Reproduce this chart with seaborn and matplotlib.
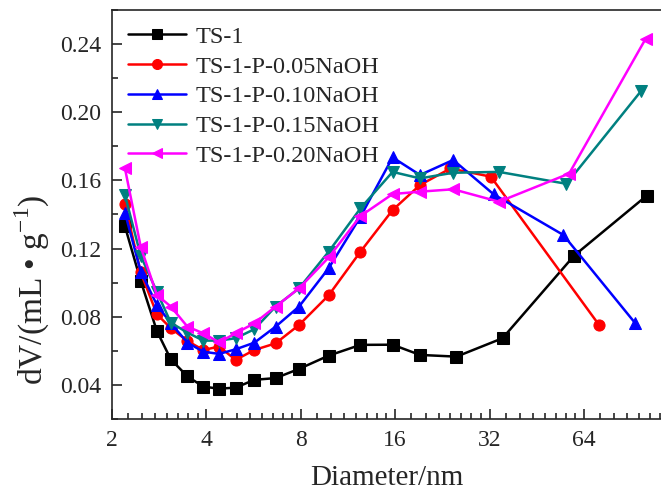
import numpy as np
import pandas as pd
import matplotlib
matplotlib.use("Agg")
import matplotlib.pyplot as plt
import matplotlib.ticker as mticker
import seaborn as sns

# pore size distribution
x_base = [2.2, 2.47, 2.78, 3.08, 3.48, 3.91, 4.39, 4.96, 5.69, 6.65, 7.9, 9.82, 12.4, 15.7, 19.2]

ts1_x = x_base + [25.1, 35.2, 59.5, 101.4]
ts1_y = [0.133, 0.101, 0.0717, 0.055, 0.045, 0.039, 0.0378, 0.0384, 0.043, 0.044,
         0.0494, 0.0572, 0.0635, 0.0636, 0.0576, 0.0566, 0.0674, 0.1158, 0.151]

p005_x = x_base + [24.0, 32.3, 71.5]
p005_y = [0.146, 0.106, 0.0815, 0.0733, 0.0658, 0.0605, 0.0625, 0.0547, 0.0605, 0.0644,
          0.0752, 0.0926, 0.1182, 0.1426, 0.1573, 0.167, 0.1622, 0.0752]

p010_x = x_base + [24.5, 33.0, 55.0, 93.0]
p010_y = [0.141, 0.1065, 0.087, 0.0762, 0.0648, 0.0595, 0.0582, 0.0609, 0.0648, 0.0742,
          0.086, 0.1085, 0.1387, 0.1735, 0.1632, 0.172, 0.1518, 0.128, 0.0765]

p015_x = x_base + [24.5, 34.3, 56.3, 97.3]
p015_y = [0.1514, 0.1157, 0.0947, 0.0765, 0.0707, 0.066, 0.066, 0.0674, 0.0727, 0.086,
          0.0967, 0.1182, 0.1436, 0.165, 0.1612, 0.1645, 0.165, 0.158, 0.2124]

p020_x = x_base + [24.5, 34.3, 57.4, 100.6]
p020_y = [0.167, 0.121, 0.0928, 0.086, 0.0742, 0.0703, 0.065, 0.0703, 0.0762, 0.086,
          0.0967, 0.1148, 0.1391, 0.152, 0.1534, 0.1548, 0.1475, 0.164, 0.243]

labels = ["TS-1", "TS-1-P-0.05NaOH", "TS-1-P-0.10NaOH", "TS-1-P-0.15NaOH", "TS-1-P-0.20NaOH"]
series = [(ts1_x, ts1_y), (p005_x, p005_y), (p010_x, p010_y), (p015_x, p015_y), (p020_x, p020_y)]
colors = ["#000000", "#FF0000", "#0000FF", "#008080", "#FF00FF"]
markers = ["s", "o", "^", "v", "<"]

sns.set_style("ticks")
plt.rcParams["font.family"] = ["Liberation Serif", "DejaVu Serif"]
plt.rcParams["mathtext.fontset"] = "custom"
plt.rcParams["mathtext.rm"] = "Liberation Serif"

fig = plt.figure(figsize=(6.61, 4.96), dpi=100)
ax = fig.add_axes([112 / 661, 77 / 496, 549 / 661, 409 / 496])

for (xs, ys), lab, c, m in zip(series, labels, colors, markers):
    df = pd.DataFrame({"Diameter": xs, "dV": ys})
    sns.lineplot(data=df, x="Diameter", y="dV", ax=ax, color=c, marker=m, markersize=8,
                 markeredgecolor=c, linewidth=1.8, sort=False, label=lab)

ax.set_xscale("log", base=2)
ax.set_xlim(2, 112.7)
ax.set_ylim(0.02, 0.26)
ax.xaxis.set_major_locator(mticker.FixedLocator([2, 4, 8, 16, 32, 64]))
ax.xaxis.set_major_formatter(mticker.FixedFormatter(["2", "4", "8", "16", "32", "64"]))
minors = [2 ** n * (1 + k / 8) for n in range(1, 7) for k in range(1, 8)]
ax.xaxis.set_minor_locator(mticker.FixedLocator(minors))
ax.xaxis.set_minor_formatter(mticker.NullFormatter())
ax.set_yticks([0.04, 0.08, 0.12, 0.16, 0.20, 0.24])
ax.set_yticklabels(["0.04", "0.08", "0.12", "0.16", "0.20", "0.24"])
ax.yaxis.set_minor_locator(mticker.FixedLocator([0.02, 0.06, 0.10, 0.14, 0.18, 0.22, 0.26]))
ax.tick_params(which="both", direction="in", labelsize=17, width=1.2)
ax.tick_params(which="major", length=7, pad=8)
ax.tick_params(which="minor", length=4)
ax.spines["right"].set_visible(False)
for s in ["left", "bottom", "top"]:
    ax.spines[s].set_linewidth(1.2)

ax.set_xlabel("Diameter/nm", fontsize=21, labelpad=10)
ax.set_ylabel(r"dV/(mL • g$^{-1}$)", fontsize=24)
ax.yaxis.set_label_coords(-0.11, 0.315)

ax.legend(loc="upper left", frameon=False, fontsize=17.5, handlelength=2.4,
          borderaxespad=0.25, labelspacing=0.32, handletextpad=0.4, markerscale=0.9)

fig.savefig("out.png", dpi=100)
